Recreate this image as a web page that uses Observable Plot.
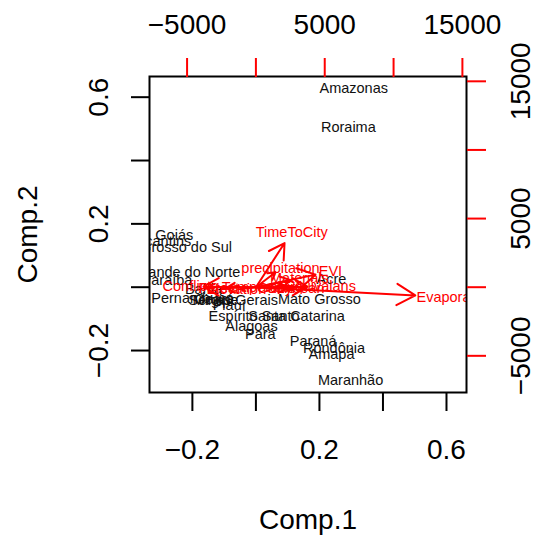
<!DOCTYPE html>
<html>
<head>
<meta charset="utf-8">
<script src="https://cdn.jsdelivr.net/npm/d3@7"></script>
<script src="https://cdn.jsdelivr.net/npm/@observablehq/plot@0.6"></script>
<style>
  html, body { margin: 0; padding: 0; background: white; }
</style>
</head>
<body>
<div id="chart"></div>
<script>
// Scores (Comp.1, Comp.2) for each state
const states = ["Amazonas","Roraima","Goiás","Tocantins","Mato Grosso do Sul","Rio Grande do Norte","Paraíba","Bahia","Pernambuco","Sergipe","Ceará","Minas Gerais","Piauí","Espírito Santo","Santa Catarina","Alagoas","Pará","Mato Grosso","Acre","Paraná","Rondônia","Amapá","Maranhão"];
const comp1 = [0.308,0.291,-0.257,-0.300,-0.277,-0.260,-0.280,-0.165,-0.200,-0.134,-0.131,-0.065,-0.084,-0.006,0.128,-0.014,0.014,0.200,0.238,0.180,0.246,0.238,0.298];
const comp2 = [0.627,0.505,0.163,0.144,0.125,0.046,0.021,-0.007,-0.034,-0.042,-0.039,-0.042,-0.058,-0.093,-0.091,-0.123,-0.148,-0.037,0.026,-0.172,-0.194,-0.211,-0.295];

// Loadings (secondary axes units)
const variables = ["TimeToCity","Evaporation","precipitation","EVI","Conflicts","Elevation","Temperature","Materials","Equivalans","Forest","Cattle","Soybean"];
const load1 = [2602,14476,1780,5414,-4760,-1417,472,3161,4687,-2700,1500,2900];
const load2 = [4022,-750,1362,1144,51,-168,-22,634,51,-80,-90,-60];

// Tick values and labels
const xTicks = [-0.2,0,0.2,0.4,0.6];
const xTickLabels = ["\u22120.2","","0.2","","0.6"];
const yTicks = [-0.2,0,0.2,0.4,0.6];
const yTickLabels = ["\u22120.2","","0.2","","0.6"];
const sTicks = [-5000,0,5000,10000,15000];
const sTickLabels = ["\u22125000","","5000","","15000"];

const K = 4.334e-5; // secondary units -> primary units

const scores = states.map((s,i) => ({name: s, x: comp1[i], y: comp2[i]}));
const loads = variables.map((v,i) => ({name: v, x: load1[i]*K, y: load2[i]*K}));
const sT = sTicks.map(s => s*K);

const font = "'Liberation Sans', Arial, Helvetica, sans-serif";

const chart = Plot.plot({
  width: 535,
  height: 538,
  marginLeft: 149,
  marginRight: 69,
  marginTop: 76,
  marginBottom: 146,
  x: {domain: [-0.335, 0.663]},
  y: {domain: [-0.3325, 0.6653]},
  style: {fontFamily: font, background: "white", color: "black"},
  marks: [
    Plot.text(scores, {x: "x", y: "y", text: "name", fontSize: 14.5, fill: "#111", clip: true}),
    Plot.arrow(loads, {x1: d => 0, y1: d => 0, x2: d => 0.8*d.x, y2: d => 0.8*d.y, stroke: "red", strokeWidth: 2, headLength: 16, headAngle: 60, clip: true}),
    Plot.text(loads, {x: "x", y: "y", text: "name", fontSize: 14.5, fill: "red", clip: true}),
    Plot.frame({stroke: "black", strokeWidth: 2}),
    // bottom axis
    Plot.axisX({anchor: "bottom", ticks: xTicks, tickSize: 19, strokeWidth: 2, tickFormat: () => "", label: null}),
    Plot.text(xTicks, {x: d => d, text: (d,i) => xTickLabels[i], frameAnchor: "bottom", textAnchor: "middle", lineAnchor: "bottom", dy: 66, fontSize: 28, fill: "black"}),
    // left axis
    Plot.axisY({anchor: "left", ticks: yTicks, tickSize: 18, strokeWidth: 2, tickFormat: () => "", label: null}),
    Plot.text(yTicks, {y: d => d, text: (d,i) => yTickLabels[i], frameAnchor: "left", textAnchor: "middle", lineAnchor: "bottom", rotate: -90, dx: -42, fontSize: 28, fill: "black"}),
    // top axis (red)
    Plot.axisX({anchor: "top", ticks: sT, tickSize: 19, stroke: "red", strokeWidth: 2, tickFormat: () => "", label: null}),
    Plot.text(sT, {x: d => d, text: (d,i) => sTickLabels[i], frameAnchor: "top", textAnchor: "middle", lineAnchor: "bottom", dy: -43, fontSize: 28, fill: "black"}),
    // right axis (red)
    Plot.axisY({anchor: "right", ticks: sT, tickSize: 19, stroke: "red", strokeWidth: 2, tickFormat: () => "", label: null}),
    Plot.text(sT, {y: d => d, text: (d,i) => sTickLabels[i], frameAnchor: "right", textAnchor: "middle", lineAnchor: "bottom", rotate: -90, dx: 63, fontSize: 28, fill: "black"}),
    // axis titles
    Plot.text(["Comp.1"], {frameAnchor: "bottom", textAnchor: "middle", lineAnchor: "bottom", dy: 136, fontSize: 28, fill: "black"}),
    Plot.text(["Comp.2"], {frameAnchor: "left", textAnchor: "middle", lineAnchor: "bottom", rotate: -90, dx: -113, fontSize: 28, fill: "black"})
  ]
});
document.getElementById("chart").appendChild(chart);
</script>
</body>
</html>
